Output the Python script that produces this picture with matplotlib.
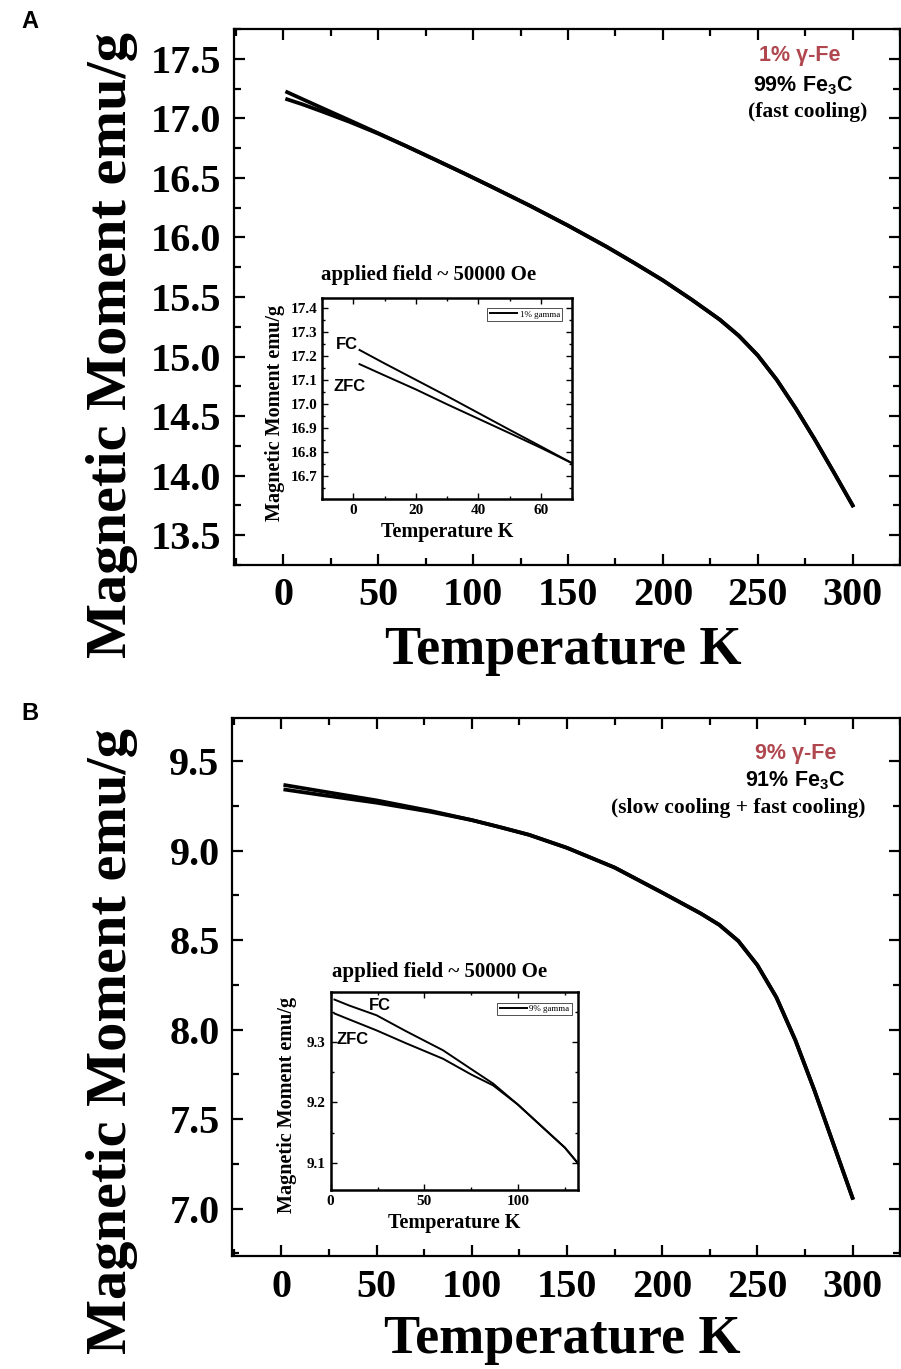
import numpy as np
import matplotlib
matplotlib.use('Agg')
import matplotlib.pyplot as plt
from matplotlib.ticker import MultipleLocator

plt.rcParams['mathtext.default'] = 'regular'
SERIF = ['Liberation Serif', 'DejaVu Serif']
SANS = ['Liberation Sans', 'DejaVu Sans']
RED = '#b0474f'

# ---- panel A (1% gamma-Fe), main curves ----
a_T = [2, 10, 20, 35, 50, 65, 80, 95, 110, 130, 150, 170, 185, 200, 215, 230,
       240, 250, 260, 270, 280, 290, 300]
a_fc = [17.22, 17.162, 17.09, 16.983, 16.875, 16.765, 16.653, 16.54, 16.424,
        16.266, 16.10, 15.925, 15.785, 15.64, 15.48, 15.31, 15.175, 15.01,
        14.805, 14.565, 14.305, 14.03, 13.75]
a_zfc = [17.16, 17.118, 17.06, 16.97, 16.872, 16.765, 16.653, 16.54, 16.424,
         16.266, 16.10, 15.925, 15.785, 15.64, 15.48, 15.31, 15.175, 15.01,
         14.805, 14.565, 14.305, 14.03, 13.75]

# panel A inset (low temperature zoom)
ai_T = [2, 10, 20, 30, 40, 50, 60, 70]
ai_fc = [17.224, 17.168, 17.100, 17.032, 16.962, 16.892, 16.823, 16.753]
ai_zfc = [17.165, 17.118, 17.060, 16.998, 16.938, 16.878, 16.817, 16.753]

# ---- panel B (9% gamma-Fe), main curves ----
b_T = [2, 20, 50, 78, 100, 115, 130, 150, 175, 200, 220, 230, 240, 250, 260,
       270, 280, 290, 300]
b_fc = [9.365, 9.333, 9.28, 9.222, 9.17, 9.13, 9.088, 9.015, 8.905, 8.765,
        8.65, 8.585, 8.495, 8.36, 8.18, 7.94, 7.66, 7.36, 7.06]
b_zfc = [9.340, 9.312, 9.267, 9.217, 9.17, 9.13, 9.088, 9.015, 8.905, 8.765,
         8.65, 8.585, 8.495, 8.36, 8.18, 7.94, 7.66, 7.36, 7.06]

# panel B inset
bi_T = [2, 10, 24.5, 40, 60, 75, 86.7, 100, 113, 125, 132]
bi_fc = [9.370, 9.360, 9.344, 9.318, 9.286, 9.255, 9.231, 9.196, 9.159, 9.125, 9.099]
bi_zfc = [9.347, 9.337, 9.319, 9.298, 9.272, 9.246, 9.228, 9.196, 9.159, 9.125, 9.099]

fig = plt.figure(figsize=(9.01, 13.69), dpi=100)


def style_main(ax, xlim, ylim, ymajor):
    ax.set_xlim(*xlim)
    ax.set_ylim(*ylim)
    ax.xaxis.set_major_locator(MultipleLocator(50))
    ax.xaxis.set_minor_locator(MultipleLocator(25))
    ax.yaxis.set_major_locator(MultipleLocator(ymajor))
    ax.yaxis.set_minor_locator(MultipleLocator(ymajor / 2))
    ax.tick_params(which='both', direction='in', top=True, right=True, width=1.6)
    ax.tick_params(which='major', length=8, pad=9)
    ax.tick_params(which='minor', length=5)
    for s in ax.spines.values():
        s.set_linewidth(1.6)
    for lab in ax.get_xticklabels() + ax.get_yticklabels():
        lab.set_family(SERIF)
        lab.set_weight('bold')
        lab.set_fontsize(29)
    ax.set_xlabel('Temperature K', family=SERIF, weight='bold', fontsize=39)
    ax.set_ylabel('Magnetic Moment emu/g', family=SERIF, weight='bold', fontsize=42)
    ax.xaxis.label.set_va('center')
    ax.yaxis.label.set_va('center')


def style_inset(ax, xlim, ylim, xmajor, ymajor, ylabel_x):
    ax.set_xlim(*xlim)
    ax.set_ylim(*ylim)
    ax.xaxis.set_major_locator(MultipleLocator(xmajor))
    ax.xaxis.set_minor_locator(MultipleLocator(xmajor / 2))
    ax.yaxis.set_major_locator(MultipleLocator(ymajor))
    ax.yaxis.set_minor_locator(MultipleLocator(ymajor / 2))
    ax.tick_params(which='both', direction='in', top=True, right=True, width=1.0)
    ax.tick_params(which='major', length=4, pad=3.5)
    ax.tick_params(which='minor', length=2)
    for s in ax.spines.values():
        s.set_linewidth(1.8)
    for lab in ax.get_xticklabels() + ax.get_yticklabels():
        lab.set_family(SERIF)
        lab.set_weight('bold')
        lab.set_fontsize(11)
    ax.set_xlabel('Temperature K', family=SERIF, weight='bold', fontsize=14.5)
    ax.set_ylabel('Magnetic Moment emu/g', family=SERIF, weight='bold', fontsize=14.5)
    ax.xaxis.set_label_coords(0.5, -0.165)
    ax.yaxis.set_label_coords(ylabel_x, 0.43)
    ax.xaxis.label.set_va('center')
    ax.yaxis.label.set_va('center')


def inset_legend(ax, pad_x, pad_y):
    leg = ax.legend(loc='upper right', prop={'family': SERIF, 'size': 6.5}, frameon=True,
                    fancybox=False, edgecolor='black', handlelength=3.0, borderpad=0.25,
                    handletextpad=0.3, bbox_to_anchor=(1 - pad_x, 1 - pad_y),
                    borderaxespad=0)
    leg.get_frame().set_linewidth(0.6)


# ================= panel A =================
axA = fig.add_axes([0.2597, 0.5873, 0.7393, 0.3915])
axA.plot(a_T, a_fc, color='black', lw=2.7)
axA.plot(a_T, a_zfc, color='black', lw=2.7)
style_main(axA, (-26, 325), (13.25, 17.75), 0.5)
axA.xaxis.set_label_coords(0.494, -0.16)
axA.yaxis.set_label_coords(-0.183, 0.41)

fig.text(0.024, 0.984, 'A', family=SANS, weight='bold', fontsize=17, va='center', ha='left')
axA.text(0.85, 0.95, '1% γ-Fe', transform=axA.transAxes, ha='center', va='center',
         family=SANS, weight='bold', fontsize=15.5, color=RED)
axA.text(0.855, 0.895, r'99% Fe$_3$C', transform=axA.transAxes, ha='center', va='center',
         family=SANS, weight='bold', fontsize=15.5)
axA.text(0.862, 0.845, '(fast cooling)', transform=axA.transAxes, ha='center', va='center',
         family=SERIF, weight='bold', fontsize=15.5)

insA = fig.add_axes([0.3574, 0.6355, 0.2775, 0.1468])
insA.plot(ai_T, ai_fc, color='black', lw=1.4, label='1% gamma')
insA.plot(ai_T, ai_zfc, color='black', lw=1.4)
style_inset(insA, (-10, 70), (16.604, 17.44), 20, 0.1, -0.19)
inset_legend(insA, 0.04, 0.05)
insA.text(0.428, 1.115, 'applied field ~ 50000 Oe', transform=insA.transAxes, ha='center',
          va='center', family=SERIF, weight='bold', fontsize=15)
insA.text(0.10, 0.77, 'FC', transform=insA.transAxes, ha='center', va='center',
          family=SANS, weight='bold', fontsize=12)
insA.text(0.11, 0.56, 'ZFC', transform=insA.transAxes, ha='center', va='center',
          family=SANS, weight='bold', fontsize=12)

# ================= panel B =================
axB = fig.add_axes([0.2575, 0.0825, 0.7415, 0.393])
axB.plot(b_T, b_fc, color='black', lw=2.7)
axB.plot(b_T, b_zfc, color='black', lw=2.7)
style_main(axB, (-26, 325), (6.735, 9.74), 0.5)
axB.xaxis.set_label_coords(0.494, -0.156)
axB.yaxis.set_label_coords(-0.18, 0.40)

fig.text(0.024, 0.479, 'B', family=SANS, weight='bold', fontsize=17, va='center', ha='left')
axB.text(0.843, 0.935, '9% γ-Fe', transform=axB.transAxes, ha='center', va='center',
         family=SANS, weight='bold', fontsize=15.5, color=RED)
axB.text(0.843, 0.883, r'91% Fe$_3$C', transform=axB.transAxes, ha='center', va='center',
         family=SANS, weight='bold', fontsize=15.5)
axB.text(0.757, 0.833, '(slow cooling + fast cooling)', transform=axB.transAxes,
         ha='center', va='center', family=SERIF, weight='bold', fontsize=15.5)

insB = fig.add_axes([0.3670, 0.1308, 0.2745, 0.1448])
insB.plot(bi_T, bi_fc, color='black', lw=1.4, label='9% gamma')
insB.plot(bi_T, bi_zfc, color='black', lw=1.4)
style_inset(insB, (0, 132), (9.055, 9.383), 50, 0.1, -0.175)
inset_legend(insB, 0.025, 0.055)
insB.text(0.44, 1.10, 'applied field ~ 50000 Oe', transform=insB.transAxes, ha='center',
          va='center', family=SERIF, weight='bold', fontsize=15)
insB.text(0.20, 0.93, 'FC', transform=insB.transAxes, ha='center', va='center',
          family=SANS, weight='bold', fontsize=12)
insB.text(0.09, 0.76, 'ZFC', transform=insB.transAxes, ha='center', va='center',
          family=SANS, weight='bold', fontsize=12)

fig.savefig('out.png', dpi=100)
